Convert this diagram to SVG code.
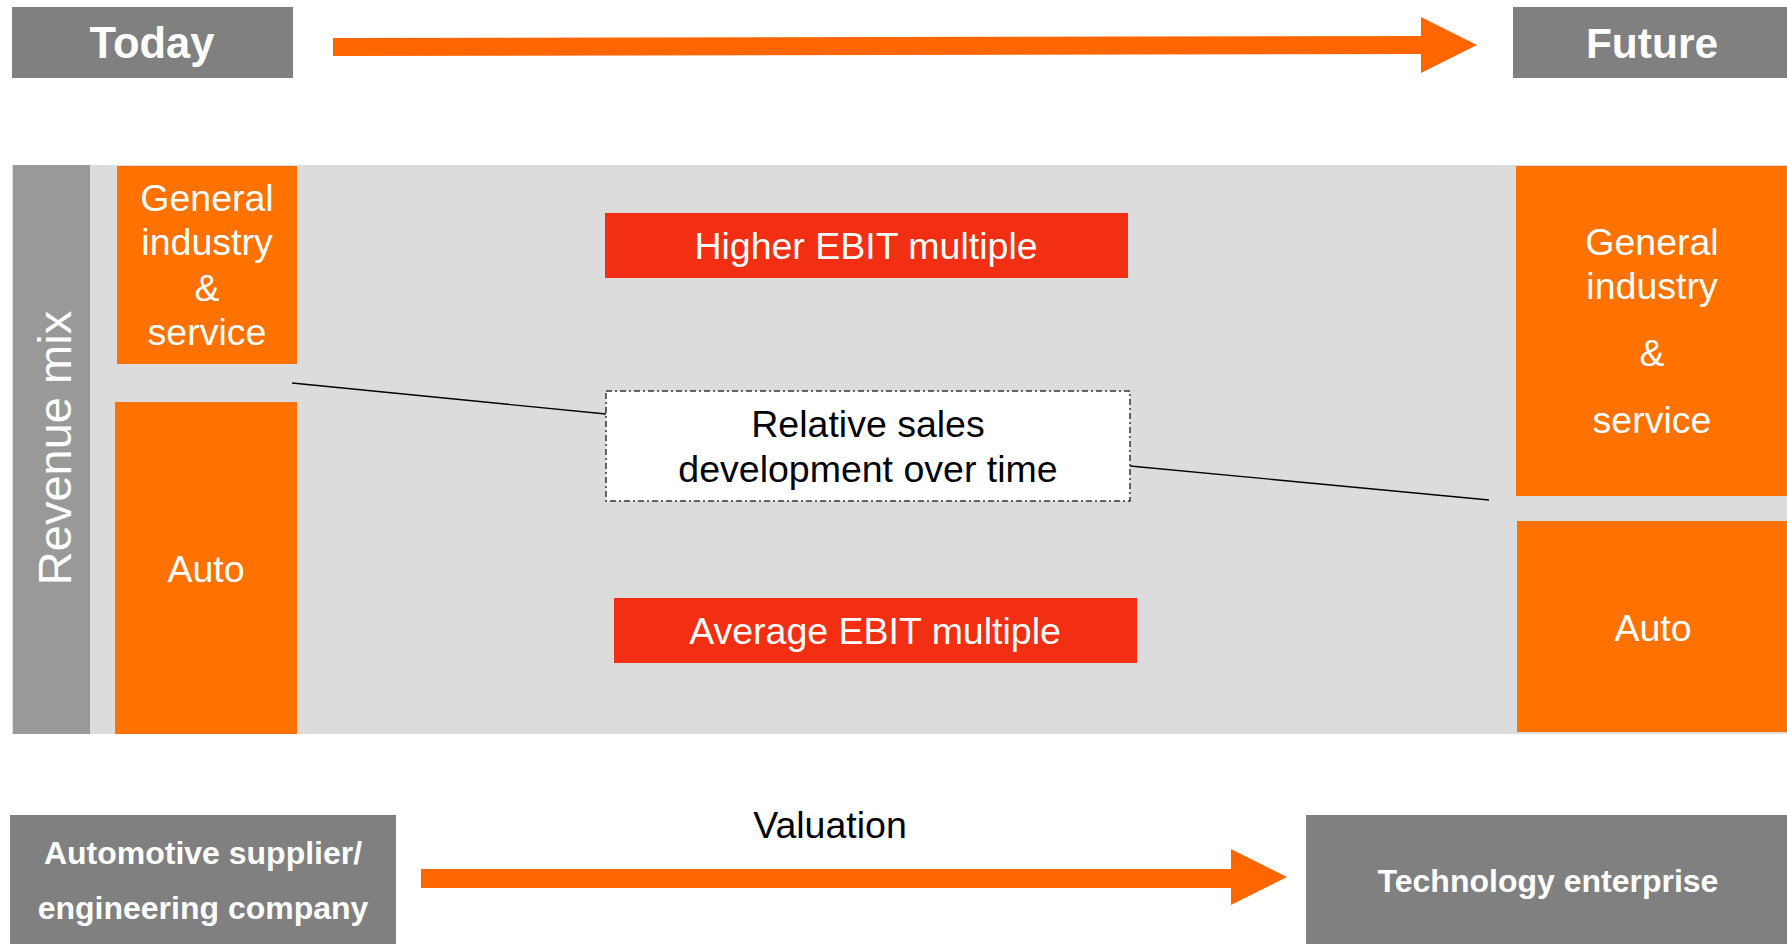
<svg xmlns="http://www.w3.org/2000/svg" width="1787" height="944" viewBox="0 0 1787 944">
<style>
.gbox{fill:#808080}
.org{fill:#FF7200}
.red{fill:#F22F12}
.arr{fill:#FF6600}
.wt{fill:#ffffff;font-family:"Liberation Sans",Arial,sans-serif;font-size:37.5px;text-anchor:middle}
.wb{fill:#ffffff;font-family:"Liberation Sans",Arial,sans-serif;font-weight:bold;text-anchor:middle}
.bt{fill:#000000;font-family:"Liberation Sans",Arial,sans-serif;font-size:37.5px;text-anchor:middle}
.conn{stroke:#000;stroke-width:1.3;fill:none}
</style>
<rect width="1787" height="944" fill="#ffffff"/>
<g id="today"><rect class="gbox" x="12" y="7" width="281" height="71"/><text class="wb" x="152" y="58" style="font-size:43.5px">Today</text></g>
<g id="future"><rect class="gbox" x="1513" y="7" width="274" height="71"/><text class="wb" x="1652" y="58" style="font-size:42.5px">Future</text></g>
<g id="top-arrow"><polygon class="arr" points="333,38 1421,36 1421,17 1477,45 1421,73 1421,54 333,56"/></g>
<g id="panel"><rect x="12" y="165" width="1775" height="569" fill="#DCDCDC"/></g>
<g id="revenue-mix"><rect x="13" y="165" width="77" height="569" fill="#999999"/><text class="wt" style="font-size:47px" transform="translate(71,448) rotate(-90)">Revenue mix</text></g>
<g id="left-gi"><rect class="org" x="117" y="166" width="180" height="198"/>
<text class="wt" x="207" y="211">General</text><text class="wt" x="207" y="255">industry</text><text class="wt" x="207" y="301">&amp;</text><text class="wt" x="207" y="345">service</text></g>
<g id="left-auto"><rect class="org" x="115" y="402" width="182" height="332"/><text class="wt" x="206" y="582">Auto</text></g>
<g id="higher-ebit"><rect class="red" x="605" y="213" width="523" height="65"/><text class="wt" x="866" y="259">Higher EBIT multiple</text></g>
<g id="relative-sales"><rect x="606" y="391" width="524" height="110" fill="#ffffff" stroke="#333" stroke-width="1.5" stroke-dasharray="6,3,2,3"/>
<text class="bt" x="868" y="437">Relative sales</text><text class="bt" x="868" y="482">development over time</text></g>
<g id="average-ebit"><rect class="red" x="614" y="598" width="523" height="65"/><text class="wt" x="875" y="644">Average EBIT multiple</text></g>
<g id="right-gi"><rect class="org" x="1516" y="166" width="271" height="330"/>
<text class="wt" x="1652" y="255">General</text><text class="wt" x="1652" y="299">industry</text><text class="wt" x="1652" y="366">&amp;</text><text class="wt" x="1652" y="433">service</text></g>
<g id="right-auto"><rect class="org" x="1517" y="521" width="270" height="211"/><text class="wt" x="1653" y="641">Auto</text></g>
<g id="connectors"><line class="conn" x1="292" y1="383" x2="606" y2="414"/><line class="conn" x1="1130" y1="466" x2="1489" y2="500"/></g>
<g id="supplier"><rect class="gbox" x="10" y="815" width="386" height="129"/><text class="wb" x="203" y="864" style="font-size:32px">Automotive supplier/</text><text class="wb" x="203" y="919" style="font-size:32px">engineering company</text></g>
<g id="valuation-arrow"><polygon class="arr" points="421,869 1231,869 1231,849 1287,877 1231,905 1231,888 421,888"/><text class="bt" x="830" y="838">Valuation</text></g>
<g id="technology"><rect class="gbox" x="1306" y="815" width="481" height="129"/><text class="wb" x="1548" y="892" style="font-size:32px">Technology enterprise</text></g>
</svg>
